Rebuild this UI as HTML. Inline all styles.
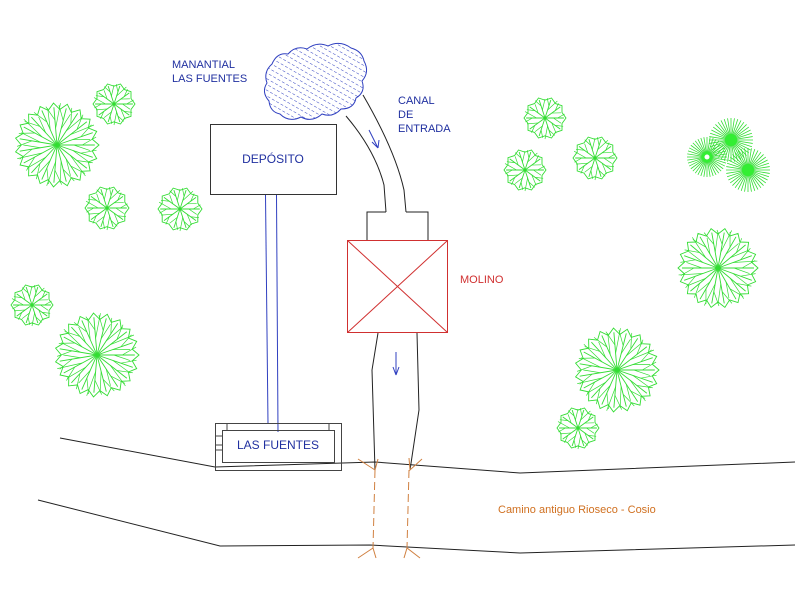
<!DOCTYPE html>
<html><head><meta charset="utf-8"><style>
html,body{margin:0;padding:0;background:#fff;width:800px;height:600px;overflow:hidden}
svg{display:block}
text{font-family:"Liberation Sans",sans-serif}
</style></head><body>
<svg id="s" width="800" height="600" viewBox="0 0 800 600" xmlns="http://www.w3.org/2000/svg">
<defs>
<pattern id="h" width="5" height="5" patternUnits="userSpaceOnUse" patternTransform="rotate(-60)">
<line x1="0" y1="0" x2="0" y2="3" stroke="#3040c0" stroke-width="1"/>
</pattern>
</defs>
<g id="trees"></g>
<polyline points="60,438 215,467 375,462 520,473 795,462" fill="none" stroke="#222" stroke-width="1"/>
<polyline points="38,500 220,546 370,545 520,553 795,545" fill="none" stroke="#222" stroke-width="1"/>
<text x="498" y="513" font-size="11" fill="#d07020">Camino antiguo Rioseco - Cosio</text>
<path d="M272,64 q5,-12 16,-10 q8,-9 19,-5 q10,-8 21,-3 q12,-6 23,2 q11,3 13,13 q6,11 -2,20 q4,11 -6,17 q-2,11 -15,11 q-8,9 -19,5 q-10,9 -21,3 q-12,6 -21,-3 q-10,-2 -11,-13 q-8,-9 -2,-18 q-4,-11 5,-19z" fill="url(#h)" stroke="#3040c0" stroke-width="1"/>
<text x="172" y="68" font-size="11" fill="#2030a0">MANANTIAL</text>
<text x="172" y="82" font-size="11" fill="#2030a0">LAS FUENTES</text>
<path d="M346,116 Q375,150 384,185 L386,212" fill="none" stroke="#222"/>
<path d="M363,95 Q395,150 404,190 L406,212" fill="none" stroke="#222"/>
<path d="M369,130 L378,148 M378,148 L372,142 M378,148 L379,140" stroke="#3040c0" fill="none"/>
<text x="398" y="104" font-size="11" fill="#2030a0">CANAL</text>
<text x="398" y="118" font-size="11" fill="#2030a0">DE</text>
<text x="398" y="132" font-size="11" fill="#2030a0">ENTRADA</text>
<polyline points="367,240 367,212 386,212" fill="none" stroke="#222"/>
<polyline points="406,212 428,212 428,240" fill="none" stroke="#222"/>
<rect x="347.5" y="240.5" width="100" height="92" fill="none" stroke="#d03030"/>
<line x1="347.5" y1="240.5" x2="447.5" y2="332.5" stroke="#d03030"/>
<line x1="447.5" y1="240.5" x2="347.5" y2="332.5" stroke="#d03030"/>
<text x="460" y="283" font-size="11" fill="#d03030">MOLINO</text>
<polyline points="378,333 372,370 375,470" fill="none" stroke="#222"/>
<polyline points="417,333 419,410 410,470" fill="none" stroke="#222"/>
<path d="M396,352 L396,375 M396,375 L393,367 M396,375 L399,367" stroke="#3040c0" fill="none"/>
<line x1="375" y1="470" x2="373" y2="548" stroke="#d08040" stroke-dasharray="8,4"/>
<line x1="409" y1="470" x2="407" y2="548" stroke="#d08040" stroke-dasharray="8,4"/>
<path d="M358,459 L375,470 L378,459 M409,458 L410,470 L422,459 M358,558 L373,548 L376,558 M404,558 L407,548 L420,558" stroke="#d08040" fill="none"/>
<rect x="210.5" y="124.5" width="126" height="70" fill="none" stroke="#333"/>
<text x="273" y="163" font-size="12" fill="#2030a0" text-anchor="middle">DEPÓSITO</text>
<line x1="265.5" y1="195" x2="268" y2="424" stroke="#3040c0"/>
<line x1="276.5" y1="195" x2="278" y2="432" stroke="#3040c0"/>
<rect x="215.5" y="423.5" width="126" height="47" fill="none" stroke="#444"/>
<rect x="222.5" y="430.5" width="112" height="32" fill="none" stroke="#444"/>
<line x1="227" y1="424" x2="227" y2="430" stroke="#444"/>
<line x1="329" y1="424" x2="329" y2="430" stroke="#444"/>
<line x1="216" y1="436" x2="222" y2="436" stroke="#444"/>
<line x1="216" y1="445" x2="222" y2="445" stroke="#444"/>
<line x1="216" y1="450" x2="222" y2="450" stroke="#444"/>
<text x="278" y="449" font-size="12" fill="#2030a0" text-anchor="middle">LAS FUENTES</text>
</svg>
<script>
var g=document.getElementById('trees'),NS='http://www.w3.org/2000/svg';
function ln(x1,y1,x2,y2,w,c){var l=document.createElementNS(NS,'line');l.setAttribute('x1',x1);l.setAttribute('y1',y1);l.setAttribute('x2',x2);l.setAttribute('y2',y2);l.setAttribute('stroke',c||'#33dd33');l.setAttribute('stroke-width',w||0.8);g.appendChild(l);}
function tree(cx,cy,r){
 var n=Math.max(10,Math.round(r/2.2));
 for(var i=0;i<n;i++){var a=i/n*2*Math.PI;ln(cx,cy,cx+Math.cos(a)*r*0.9,cy+Math.sin(a)*r*0.9,0.9);
  var a2=a+Math.PI/n;var rr=r*(0.8+0.2*((i*7)%3)/2);
  ln(cx+Math.cos(a)*r*0.4,cy+Math.sin(a)*r*0.4,cx+Math.cos(a2)*rr,cy+Math.sin(a2)*rr,0.7);
  ln(cx+Math.cos(a)*r*0.6,cy+Math.sin(a)*r*0.6,cx+Math.cos(a-0.2)*r*0.95,cy+Math.sin(a-0.2)*r*0.95,0.7);}
 var p=document.createElementNS(NS,'path'),d='';
 for(var i=0;i<=n*2;i++){var a=i/(n*2)*2*Math.PI,rr=r*(i%2?0.85:1);d+=(i?'L':'M')+(cx+Math.cos(a)*rr).toFixed(1)+','+(cy+Math.sin(a)*rr).toFixed(1);}
 p.setAttribute('d',d+'Z');p.setAttribute('fill','none');p.setAttribute('stroke','#33dd33');p.setAttribute('stroke-width','0.9');g.appendChild(p);}
function star(cx,cy,r,hollow){for(var i=0;i<40;i++){var a=i/40*2*Math.PI;ln(cx+Math.cos(a)*4,cy+Math.sin(a)*4,cx+Math.cos(a)*r,cy+Math.sin(a)*r,0.8);}
 var c=document.createElementNS(NS,'circle');c.setAttribute('cx',cx);c.setAttribute('cy',cy);c.setAttribute('r',hollow?4:6);c.setAttribute('fill',hollow?'#fff':'#33ee33');c.setAttribute('stroke','#33ee33');c.setAttribute('stroke-width',hollow?3:0);g.appendChild(c);}
[[57,145,42],[114,104,21],[107,208,22],[180,209,22],[32,305,21],[97,355,42],[545,118,21],[525,170,21],[595,158,22],[718,268,40],[617,370,42],[578,428,21]].forEach(function(t){tree(t[0],t[1],t[2]);});
star(731,140,22);star(707,157,20,true);star(748,170,22);
</script>
</body></html>
